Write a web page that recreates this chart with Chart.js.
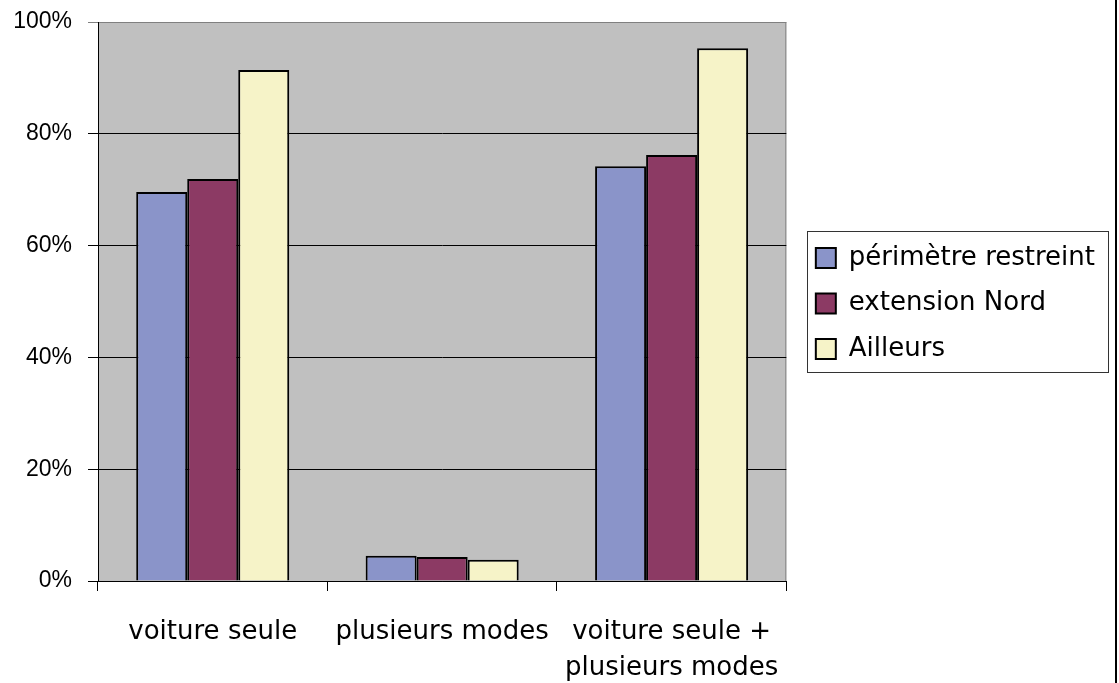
<!DOCTYPE html>
<html>
<head>
<meta charset="utf-8">
<script src="https://cdn.jsdelivr.net/npm/chart.js@4/dist/chart.umd.min.js"></script>
<style>
  body { margin: 0; background: #fff; }
  #wrap { width: 1115px; height: 683px; border-right: 2px solid #000; }
</style>
</head>
<body>
<div id="wrap"><canvas id="myChart" width="1115" height="683"></canvas></div>
<script>
// categories and series
var categories = ['voiture seule', 'plusieurs modes', ['voiture seule +', 'plusieurs modes']];
var perimetreRestreint = [0.696, 0.045, 0.742];
var extensionNord = [0.719, 0.043, 0.762];
var ailleurs = [0.914, 0.038, 0.953];
var yTicks = [0, 0.2, 0.4, 0.6, 0.8, 1];

// plot area background + border, legend placement and frame
var plotFrame = {
  id: 'plotFrame',
  beforeDraw: function (chart) {
    var a = chart.chartArea, ctx = chart.ctx;
    ctx.save();
    ctx.fillStyle = '#c0c0c0';
    ctx.fillRect(a.left, a.top, a.right - a.left, a.bottom - a.top);
    ctx.strokeStyle = '#808080';
    ctx.lineWidth = 1;
    ctx.strokeRect(a.left + 0.5, a.top + 0.5, a.right - a.left - 1, a.bottom - a.top);
    ctx.restore();
  },
  afterLayout: function (chart) {
    var lg = chart.legend;
    lg.left += 10;
    lg.right += 10;
    lg.top = chart.chartArea.top + 2;
    lg.bottom = chart.chartArea.bottom + 2;
  },
  afterDraw: function (chart) {
    var boxes = chart.legend.legendHitBoxes;
    if (!boxes || !boxes.length) return;
    var l = Infinity, r = -Infinity, t = Infinity, b = -Infinity;
    boxes.forEach(function (h) {
      l = Math.min(l, h.left); r = Math.max(r, h.left + h.width);
      t = Math.min(t, h.top); b = Math.max(b, h.top + h.height);
    });
    var ctx = chart.ctx;
    ctx.save();
    ctx.strokeStyle = '#333';
    ctx.lineWidth = 1;
    ctx.strokeRect(Math.round(l - 9) + 0.5, Math.round(t - 14) + 0.5, Math.round(r - l + 22), Math.round(b - t + 24));
    ctx.restore();
  }
};

new Chart(document.getElementById('myChart'), {
  type: 'bar',
  data: {
    labels: categories,
    datasets: [
      { label: 'périmètre restreint', data: perimetreRestreint, backgroundColor: '#8a94c9', borderColor: '#000', borderWidth: 2 },
      { label: 'extension Nord', data: extensionNord, backgroundColor: '#8c3a64', borderColor: '#000', borderWidth: 2 },
      { label: 'Ailleurs', data: ailleurs, backgroundColor: '#f6f3c8', borderColor: '#000', borderWidth: 2 }
    ]
  },
  options: {
    responsive: false,
    animation: false,
    layout: { padding: { left: 0, top: 22, right: 20, bottom: 0 } },
    datasets: { bar: { categoryPercentage: 0.667, barPercentage: 1.0 } },
    scales: {
      x: {
        offset: true,
        afterFit: function (axis) { axis.height = 102; },
        grid: { offset: true, drawOnChartArea: false, color: '#000', tickLength: 10 },
        border: { color: '#000', width: 1 },
        ticks: {
          color: '#000', padding: 23, maxRotation: 0,
          font: { family: 'DejaVu Sans', size: 26, lineHeight: 1.38 }
        }
      },
      y: {
        min: 0, max: 1,
        afterFit: function (axis) { axis.width = 98; axis.paddingTop = 0; },
        afterBuildTicks: function (axis) { axis.ticks = yTicks.map(function (v) { return { value: v }; }); },
        grid: {
          color: function (c) { return c.tick && c.tick.value === 1 ? '#808080' : '#000'; },
          tickLength: 10
        },
        border: { color: '#000', width: 1 },
        ticks: {
          color: '#000', padding: 16,
          font: { family: 'Liberation Sans', size: 23 },
          callback: function (v) { return Math.round(v * 100) + '%'; }
        }
      }
    },
    plugins: {
      legend: {
        position: 'right',
        maxWidth: 400,
        labels: {
          color: '#000', boxWidth: 20, boxHeight: 20, padding: 19.5,
          font: { family: 'DejaVu Sans', size: 26, lineHeight: 1.2 }
        }
      },
      tooltip: { enabled: false }
    }
  },
  plugins: [plotFrame]
});
</script>
</body>
</html>
